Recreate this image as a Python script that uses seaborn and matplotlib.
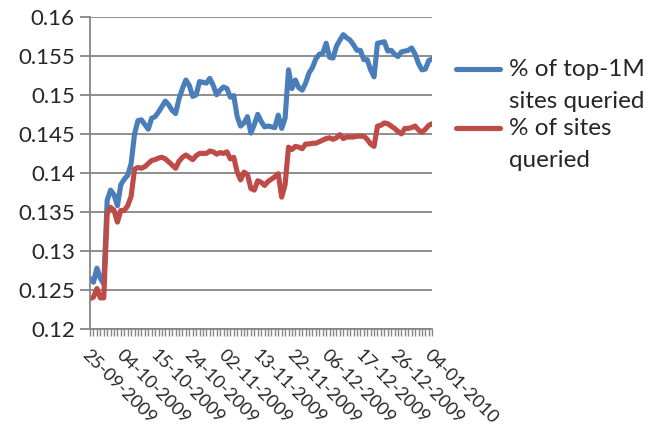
import numpy as np
import matplotlib
matplotlib.use("Agg")
import matplotlib.pyplot as plt
from matplotlib.lines import Line2D
import seaborn as sns

# daily values (101 categories)
top1m_queried = [
    0.1265, 0.1260, 0.1278, 0.1265, 0.1258, 0.1365, 0.1378, 0.1372, 0.1358, 0.1385,
    0.1392, 0.1397, 0.1412, 0.1450, 0.1467, 0.1468, 0.1462, 0.1456, 0.1470, 0.1472,
    0.1478, 0.1485, 0.1492, 0.1487, 0.1480, 0.1476, 0.1495, 0.1508, 0.1519, 0.1512,
    0.1498, 0.1500, 0.1517, 0.1516, 0.1515, 0.1521, 0.1512, 0.1500, 0.1506, 0.1510,
    0.1508, 0.1497, 0.1499, 0.1472, 0.1460, 0.1464, 0.1472, 0.1451, 0.1462, 0.1475,
    0.1466, 0.1459, 0.1460, 0.1459, 0.1458, 0.1474, 0.1457, 0.1470, 0.1532, 0.1508,
    0.1519, 0.1509, 0.1506, 0.1515, 0.1528, 0.1535, 0.1546, 0.1552, 0.1553, 0.1566,
    0.1548, 0.1547, 0.1562, 0.1570, 0.1577, 0.1573, 0.1570, 0.1564, 0.1557, 0.1557,
    0.1545, 0.1545, 0.1532, 0.1523, 0.1566, 0.1567, 0.1568, 0.1556, 0.1557, 0.1552,
    0.1549, 0.1555, 0.1556, 0.1557, 0.1560, 0.1552, 0.1540, 0.1532, 0.1533, 0.1544,
    0.1546,
]
all_queried = [
    0.1239, 0.1241, 0.1252, 0.1240, 0.1240, 0.1348, 0.1356, 0.1352, 0.1337, 0.1352,
    0.1352, 0.1358, 0.1370, 0.1405, 0.1407, 0.1406, 0.1408, 0.1412, 0.1416, 0.1417,
    0.1419, 0.1420, 0.1418, 0.1414, 0.1410, 0.1406, 0.1415, 0.1420, 0.1423, 0.1420,
    0.1417, 0.1422, 0.1425, 0.1425, 0.1425, 0.1428, 0.1427, 0.1424, 0.1426, 0.1425,
    0.1427, 0.1418, 0.1420, 0.1401, 0.1391, 0.1401, 0.1398, 0.1380, 0.1378, 0.1390,
    0.1388, 0.1384, 0.1389, 0.1392, 0.1395, 0.1399, 0.1369, 0.1385, 0.1433, 0.1430,
    0.1434, 0.1433, 0.1431, 0.1437, 0.1437, 0.1438, 0.1438, 0.1440, 0.1442, 0.1444,
    0.1445, 0.1443, 0.1445, 0.1449, 0.1444, 0.1446, 0.1446, 0.1446, 0.1447, 0.1447,
    0.1447, 0.1443, 0.1437, 0.1434, 0.1460, 0.1461, 0.1464, 0.1463, 0.1460, 0.1457,
    0.1453, 0.1450, 0.1457, 0.1457, 0.1458, 0.1460, 0.1455, 0.1452, 0.1456, 0.1461,
    0.1463,
]
date_labels = [
    "25-09-2009", "04-10-2009", "15-10-2009", "24-10-2009", "02-11-2009",
    "13-11-2009", "22-11-2009", "06-12-2009", "17-12-2009", "26-12-2009",
    "04-01-2010",
]
series_names = ["% of top-1M\nsites queried", "% of sites\nqueried"]
colors = ["#4A7EBB", "#BE4B48"]

sns.set_style("white")
plt.rcParams["font.family"] = ["Lato", "DejaVu Sans"]
grey = "#868686"

fig = plt.figure(figsize=(6.48, 4.40), dpi=100)
ax = fig.add_axes([0.139, 0.252, 0.528, 0.710])

days = np.arange(len(top1m_queried))
sns.lineplot(x=days, y=top1m_queried, color=colors[0], lw=3.7, ax=ax)
sns.lineplot(x=days, y=all_queried, color=colors[1], lw=3.7, ax=ax)

ax.set_xlim(0, len(days) - 1)
ax.set_ylim(0.12, 0.16)
ax.set_yticks(np.arange(0.12, 0.1601, 0.005))
ax.set_yticklabels(["0.12", "0.125", "0.13", "0.135", "0.14", "0.145",
                    "0.15", "0.155", "0.16"])
ax.yaxis.grid(True, color=grey, lw=1.3)
ax.set_axisbelow(True)

ax.set_xticks(days, minor=True)
ax.set_xticks(np.arange(0, len(days), 10))
ax.set_xticklabels(date_labels, rotation=-45, ha="left", va="top",
                   rotation_mode="anchor")

for side in ["top", "right"]:
    ax.spines[side].set_visible(False)
for side in ["left", "bottom"]:
    ax.spines[side].set_color(grey)
    ax.spines[side].set_linewidth(1.3)

ax.tick_params(axis="y", which="both", direction="out", length=7, width=1.3,
               color=grey, labelsize=16, pad=4, left=True)
ax.tick_params(axis="x", which="both", direction="out", length=5, width=1.0,
               color=grey, labelsize=13, pad=8, bottom=True)
ax.set_xlabel("")
ax.set_ylabel("")

# legend to the right, sample line at the first text line
legend_rows = [(0.843, series_names[0], colors[0]),
               (0.709, series_names[1], colors[1])]
for y, name, c in legend_rows:
    fig.add_artist(Line2D([0.704, 0.772], [y, y], color=c, lw=3.7,
                          transform=fig.transFigure))
    first, second = name.split("\n")
    fig.text(0.786, y, first, fontsize=17.5, va="center", ha="left")
    fig.text(0.786, y - 0.074, second, fontsize=17.5, va="center", ha="left")

plt.savefig("out.png", dpi=100)
plt.close()
